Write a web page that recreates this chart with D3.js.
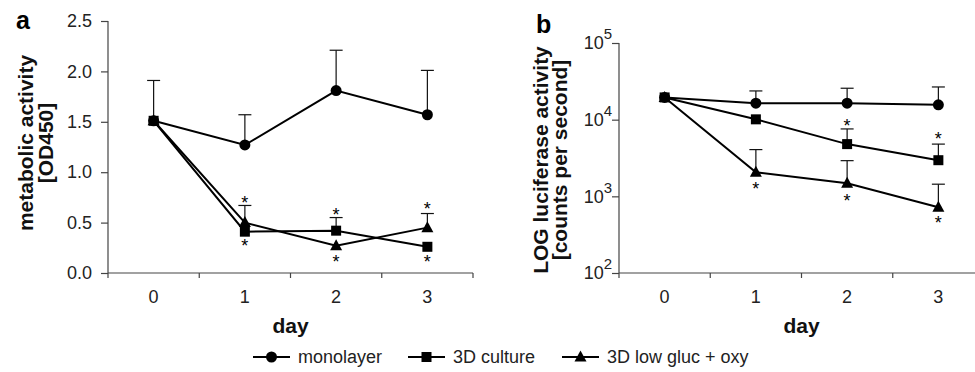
<!DOCTYPE html>
<html>
<head>
<meta charset="utf-8">
<script src="https://cdn.jsdelivr.net/npm/d3@7"></script>
<style>
  body { margin: 0; background: #fff; }
  svg { font-family: "Liberation Sans", Arial, sans-serif; }
  .tick text { font-size: 18px; fill: #222; }
  .axis path, .axis line { stroke: #444; stroke-width: 1.2; }
  .title { font-weight: bold; font-size: 21px; fill: #111; }
</style>
</head>
<body>
<svg id="chart" width="975" height="372"></svg>
<script>
(function(){
    "use strict";

    var days = ["0", "1", "2", "3"];
    var seriesNames = ["monolayer", "3D culture", "3D low gluc + oxy"];
    var markers = ["circle", "square", "triangle"];

    // panel a, metabolic activity (OD450); error = top of upper whisker, null = none shown
    var monoA = [1.51, 1.27, 1.81, 1.57];
    var monoATop = [1.91, 1.57, 2.21, 2.01];
    var cultA = [1.51, 0.41, 0.42, 0.26];
    var cultATop = [null, null, 0.55, null];
    var lowA = [1.51, 0.50, 0.27, 0.45];
    var lowATop = [null, 0.67, null, 0.59];
    var starsA = [
        {day: "1", v: 0.73}, {day: "1", v: 0.305},
        {day: "2", v: 0.62}, {day: "2", v: 0.15},
        {day: "3", v: 0.67}, {day: "3", v: 0.15}
    ];
    var ticksA = [0, 0.5, 1.0, 1.5, 2.0, 2.5];

    // panel b, luciferase activity (counts per second), log scale
    var monoB = [19500, 16400, 16400, 15600];
    var monoBTop = [null, 23700, 25700, 26700];
    var cultB = [19500, 10100, 4800, 2960];
    var cultBTop = [null, null, 7570, 4800];
    var lowB = [19500, 2060, 1480, 720];
    var lowBTop = [null, 4070, 2920, 1440];
    var starsB = [
        {day: "2", v: 9420}, {day: "3", v: 6330},
        {day: "1", v: 1410}, {day: "2", v: 985}, {day: "3", v: 507}
    ];
    var ticksB = [100, 1000, 10000, 100000];

    var svg = d3.select("svg#chart");

    function marker(g, type, x, y) {
        if (type === "circle") {
            g.append("circle").attr("cx", x).attr("cy", y).attr("r", 5.5).attr("fill", "#000");
        } else if (type === "square") {
            g.append("rect").attr("x", x - 5).attr("y", y - 5)
                .attr("width", 10).attr("height", 10).attr("fill", "#000");
        } else {
            g.append("path")
                .attr("d", "M" + x + "," + (y - 6.5) + "L" + (x + 6) + "," + (y + 4.5) + "L" + (x - 6) + "," + (y + 4.5) + "Z")
                .attr("fill", "#000");
        }
    }

    function panel(opt) {
        var g = svg.append("g");
        var x = d3.scaleBand().domain(days).range([opt.x0, opt.x0 + 365]);
        var y = opt.y;

        // x axis: ticks at band edges
        var xa = g.append("g").attr("class", "axis");
        xa.append("line").attr("x1", opt.x0).attr("x2", opt.x0 + 365)
            .attr("y1", 273).attr("y2", 273);
        var edges = days.map(function(d) { return x(d); }).concat([opt.x0 + 365]);
        xa.selectAll("line.t").data(edges.slice(1)).enter().append("line")
            .attr("class", "t")
            .attr("x1", function(d) { return d; }).attr("x2", function(d) { return d; })
            .attr("y1", 273).attr("y2", 278);
        g.append("line").attr("class", "axis").attr("x1", opt.x0).attr("x2", opt.x0)
            .attr("y1", y.range()[1]).attr("y2", 278)
            .style("stroke", "#444").style("stroke-width", 1.2);
        g.selectAll("text.xl").data(days).enter().append("text")
            .attr("class", "xl")
            .attr("x", function(d) { return x(d) + x.bandwidth() / 2; })
            .attr("y", 303)
            .attr("text-anchor", "middle")
            .style("font-size", "18px").style("fill", "#222")
            .text(function(d) { return d; });

        // y axis
        var ya = g.append("g").attr("class", "axis")
            .attr("transform", "translate(" + opt.x0 + ",0)")
            .call(d3.axisLeft(y).tickValues(opt.ticks).tickSize(7).tickPadding(9).tickFormat(opt.fmt));
        ya.select(".domain").remove();
        if (opt.log) {
            ya.selectAll(".tick text").text(null).each(function(d) {
                var t = d3.select(this);
                t.attr("dx", "9px");
                t.append("tspan").text("10");
                t.append("tspan").attr("dy", "-10").style("font-size", "15px")
                    .text(Math.round(Math.log10(d)));
            });
        }

        // titles
        g.append("text").attr("class", "title")
            .attr("x", (opt.x0 * 2 + 365) / 2).attr("y", 333)
            .attr("text-anchor", "middle").text("day");
        opt.ytitle.forEach(function(t, i) {
            g.append("text").attr("class", "title")
                .attr("transform", "translate(" + opt.ytx[i] + "," + opt.yty + ") rotate(-90)")
                .attr("text-anchor", "middle").text(t);
        });
        g.append("text").attr("x", opt.lx).attr("y", opt.ly)
            .style("font-weight", "bold").style("font-size", "25px").text(opt.label);

        var cx = function(i) { return x(days[i]) + x.bandwidth() / 2; };

        // error bars
        opt.series.forEach(function(s) {
            s.top.forEach(function(t, i) {
                if (t === null) return;
                g.append("line").attr("x1", cx(i)).attr("x2", cx(i))
                    .attr("y1", y(s.vals[i])).attr("y2", y(t))
                    .attr("stroke", "#111").attr("stroke-width", 1.2);
                g.append("line").attr("x1", cx(i) - 6.5).attr("x2", cx(i) + 6.5)
                    .attr("y1", y(t)).attr("y2", y(t))
                    .attr("stroke", "#111").attr("stroke-width", 1.2);
            });
        });

        // lines
        var line = d3.line().x(function(d, i) { return cx(i); }).y(function(d) { return y(d); });
        opt.series.forEach(function(s) {
            g.append("path").datum(s.vals).attr("d", line)
                .attr("fill", "none").attr("stroke", "#000").attr("stroke-width", 2);
        });

        // markers: triangles, circles, then squares on top
        [2, 0, 1].forEach(function(k) {
            var s = opt.series[k];
            s.vals.forEach(function(v, i) { marker(g, markers[k], cx(i), y(v)); });
        });

        // significance stars
        g.selectAll("text.star").data(opt.stars).enter().append("text")
            .attr("class", "star")
            .attr("x", function(d) { return x(d.day) + x.bandwidth() / 2; })
            .attr("y", function(d) { return y(d.v) + 10; })
            .attr("text-anchor", "middle")
            .style("font-size", "18px")
            .text("*");
    }

    panel({
        x0: 108,
        y: d3.scaleLinear().domain([0, 2.5]).range([273, 21]),
        ticks: ticksA,
        fmt: d3.format(".1f"),
        log: false,
        ytitle: ["metabolic activity", "[OD450]"],
        ytx: [33, 53], yty: 143,
        label: "a", lx: 16, ly: 29,
        series: [
            {vals: monoA, top: monoATop},
            {vals: cultA, top: cultATop},
            {vals: lowA, top: lowATop}
        ],
        stars: starsA
    });

    panel({
        x0: 619,
        y: d3.scaleLog().domain([100, 100000]).range([273, 43]),
        ticks: ticksB,
        fmt: function(d) { return d; },
        log: true,
        ytitle: ["LOG luciferase activity", "[counts per second]"],
        ytx: [548, 567], yty: 160,
        label: "b", lx: 536, ly: 33,
        series: [
            {vals: monoB, top: monoBTop},
            {vals: cultB, top: cultBTop},
            {vals: lowB, top: lowBTop}
        ],
        stars: starsB
    });

    // legend
    var leg = svg.append("g");
    var legX = [253, 408, 562];
    seriesNames.forEach(function(n, k) {
        var lx = legX[k];
        leg.append("line").attr("x1", lx).attr("x2", lx + 37)
            .attr("y1", 357).attr("y2", 357)
            .attr("stroke", "#000").attr("stroke-width", 2);
        marker(leg, markers[k], lx + 18.5, 357);
        leg.append("text").attr("x", lx + 45).attr("y", 363)
            .style("font-size", "18px").style("fill", "#222").text(n);
    });
})();
</script>
</body>
</html>
